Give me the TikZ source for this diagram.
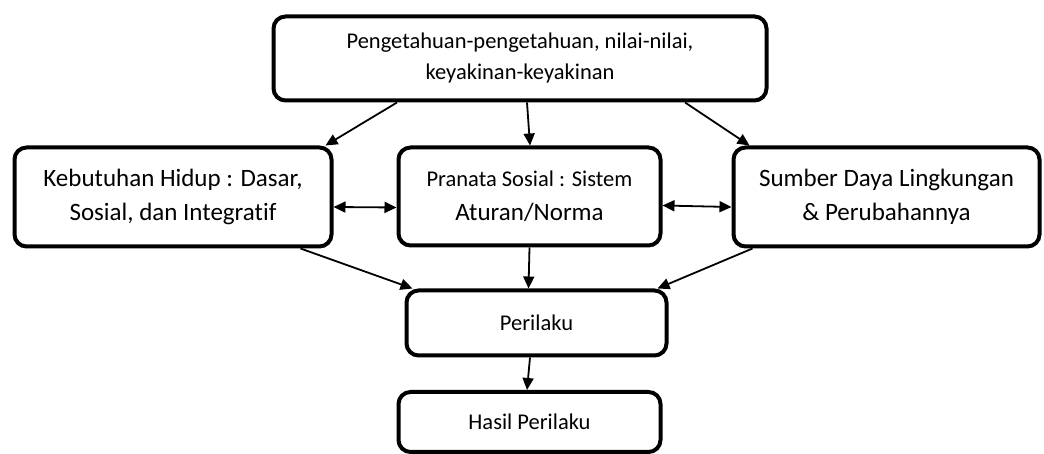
\documentclass[tikz,border=0pt]{standalone}
\usepackage{fontspec}
\setmainfont{Carlito}[Ligatures=NoCommon]
\usetikzlibrary{arrows.meta}
\begin{document}
\begin{tikzpicture}[x=1pt,y=1pt,
  box/.style={draw=black,line width=4pt,rounded corners=12pt,align=center,inner sep=0pt,fill=white},
  small/.style={font=\fontsize{22.5}{31}\selectfont},
  big/.style={font=\fontsize{25}{33.5}\selectfont},
  arr/.style={line width=1.8pt,-{Triangle[length=12pt,width=11pt]}},
  darr/.style={line width=1.8pt,{Triangle[length=12pt,width=11pt]}-{Triangle[length=12pt,width=11pt]}}]
\useasboundingbox (0,0) rectangle (1044,454);
\node[box,small,minimum width=493pt,minimum height=84pt] (top) at (520,395.5)
  {Pengetahuan-pengetahuan, nilai-nilai,\\keyakinan-keyakinan};
\node[box,big,minimum width=317pt,minimum height=99pt] (left) at (173,257)
  {Kebutuhan Hidup : Dasar,\\Sosial, dan Integratif};
\node[box,font=\fontsize{25}{34}\selectfont,minimum width=262pt,minimum height=98pt] (mid) at (529.5,257.5)
  {{\fontsize{22.5}{34}\selectfont Pranata Sosial : Sistem}\\Aturan/Norma};
\node[box,big,minimum width=306pt,minimum height=99pt] (right) at (886.5,257)
  {Sumber Daya Lingkungan\\\& Perubahannya};
\node[box,small,minimum width=260pt,minimum height=65pt] (per) at (536.5,131) {Perilaku};
\node[box,small,minimum width=262pt,minimum height=60pt] (hasil) at (529.5,32) {Hasil Perilaku};
\draw[arr] ([xshift=-123pt]top.south) -- ([xshift=-8pt]left.north east);
\draw[arr] ([xshift=7pt]top.south) -- ([xshift=0.5pt]mid.north);
\draw[arr] ([xshift=165pt]top.south) -- ([xshift=18pt]right.north west);
\draw[darr] ([yshift=-10pt]left.east) -- ([yshift=-11pt]mid.west);
\draw[darr] ([yshift=-9pt]mid.east) -- ([yshift=-10pt]right.west);
\draw[arr] ([xshift=-33pt]left.south east) -- ([xshift=8pt]per.north west);
\draw[arr] (mid.south) -- ([xshift=-8pt]per.north);
\draw[arr] ([xshift=21pt]right.south west) -- ([xshift=-11pt]per.north east);
\draw[arr] ([xshift=-6.5pt]per.south) -- ([xshift=-2.5pt]hasil.north);
\end{tikzpicture}
\end{document}
